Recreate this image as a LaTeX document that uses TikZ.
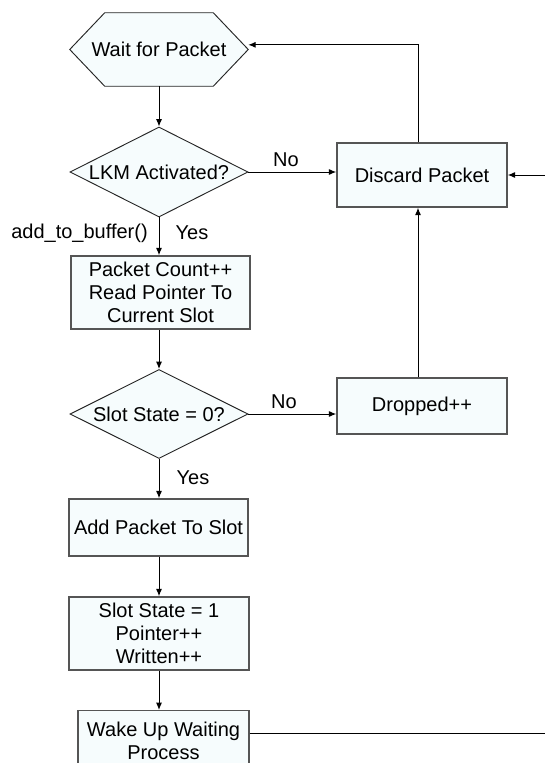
\documentclass[tikz,border=0pt]{standalone}
\usepackage{fontspec}
\setmainfont{Liberation Sans}
\usetikzlibrary{shapes.geometric,arrows.meta,calc}
\pgfdeclarelayer{background}
\pgfsetlayers{background,main}

\definecolor{boxfill}{RGB}{246,252,253}
\definecolor{boxline}{RGB}{85,85,85}

\tikzset{
  every node/.style={font=\fontsize{15}{17}\selectfont},
  stepbox/.style={rectangle, draw=boxline, line width=1.1pt, fill=boxfill,
    align=center, inner sep=0pt},
  decision/.style={diamond, draw=black!85, line width=0.7pt, fill=boxfill,
    inner sep=0pt, aspect=2},
  flow/.style={draw=black, line width=0.75pt,
    -{Latex[length=5.5pt,width=4.5pt]}},
  plain/.style={draw=black, line width=0.75pt},
  lbl/.style={inner sep=0pt}
}

\begin{document}
\begin{tikzpicture}[x=0.75pt,y=-0.75pt]
\useasboundingbox (0,0) rectangle (545,763);

% start terminal (hexagon drawn behind its text)
\node[minimum width=133.5pt, minimum height=54.75pt, inner sep=0pt] (hex) at (159,49.5) {Wait for Packet};
\begin{pgfonlayer}{background}
  \path[draw=black!85, line width=0.7pt, fill=boxfill]
    (hex.west) -- ([xshift=26.25pt]hex.north west) -- ([xshift=-26.25pt]hex.north east)
    -- (hex.east) -- ([xshift=-26.25pt]hex.south east) -- ([xshift=26.25pt]hex.south west) -- cycle;
\end{pgfonlayer}

% decisions
\node[decision, minimum width=133.5pt, minimum height=67.5pt] (d1) at (159,172) {};
\node[lbl] at (d1) {LKM Activated?};
\node[decision, minimum width=133.5pt, minimum height=66.75pt] (d2) at (159,414) {};
\node[lbl] at (d2) {Slot State = 0?};

% process boxes
\node[stepbox, minimum width=134.25pt, minimum height=54.75pt] (b1) at (160.5,292.5)
  {Packet Count++\\Read Pointer To\\Current Slot};
\node[stepbox, minimum width=134.25pt, minimum height=42.75pt] (b2) at (158.5,527.5)
  {Add Packet To Slot};
\node[stepbox, minimum width=135pt, minimum height=54.75pt] (b3) at (159,633.5)
  {Slot State = 1\\Pointer++\\Written++};
\node[stepbox, minimum width=128.25pt, minimum height=45pt, anchor=north] (b4) at (163.5,710)
  {Wake Up Waiting\\Process};
\node[stepbox, minimum width=127.5pt, minimum height=48pt] (dp) at (422,175) {Discard Packet};
\node[stepbox, minimum width=127.5pt, minimum height=42pt] (dr) at (422,406) {Dropped++};

% free ends at the right border
\coordinate (rin) at (545,175);
\coordinate (rout) at (545,733);

% main column
\draw[flow] (hex.south) -- (hex.south |- d1.north);
\draw[flow] (d1.south) -- (d1.south |- b1.north);
\draw[flow] (d1.south |- b1.south) -- (d2.north);
\draw[flow] (d2.south) -- (d2.south |- b2.north);
\draw[flow] (d2.south |- b2.south) -- (d2.south |- b3.north);
\draw[flow] (d2.south |- b3.south) -- (d2.south |- b4.north);

% rejection branches
\draw[flow] (d1.east) -- (d1.east -| dp.west);
\draw[flow] (d2.east) -- (d2.east -| dr.west);
\draw[flow] ([xshift=-3pt]dr.north) -- ([xshift=-3pt]dp.south);
\draw[flow] ([xshift=-3pt]dp.north) |- ([yshift=3.5pt]hex.east);
\draw[flow] (rin) -- (dp.east);
\draw[plain] (b4.east |- rout) -- (rout);

% branch labels
\node[lbl] at (286,160) {No};
\node[lbl] at (284,402) {No};
\node[lbl, anchor=east] at (148,233) {add\_to\_buffer()};
\node[lbl] at (192,233) {Yes};
\node[lbl] at (193,478) {Yes};
\end{tikzpicture}
\end{document}
